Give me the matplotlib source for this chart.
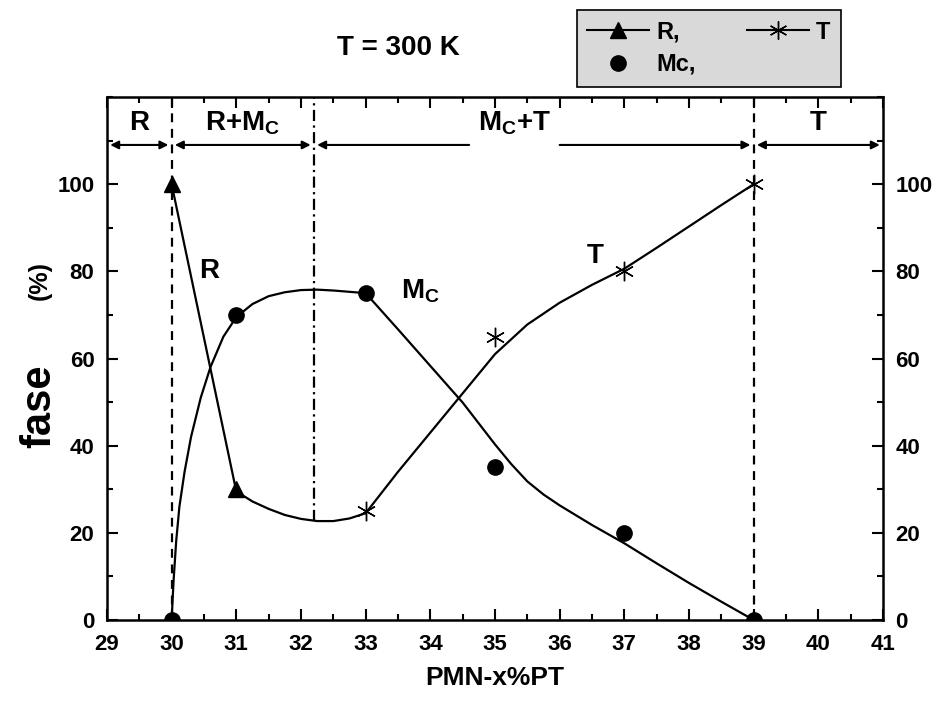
import matplotlib
matplotlib.use("Agg")
import matplotlib.pyplot as plt
from matplotlib.ticker import MultipleLocator

plt.rcParams['font.family'] = ['Liberation Sans', 'DejaVu Sans']
plt.rcParams['font.weight'] = 'bold'
plt.rcParams['axes.labelweight'] = 'bold'

# fracciones de fase medidas (%)
x_R = [30, 31]
y_R = [100, 30]
x_Mc = [30, 31, 33, 35, 37, 39]
y_Mc = [0, 70, 75, 35, 20, 0]
x_T = [33, 35, 37, 39]
y_T = [25, 65, 80, 100]

# curvas guia
curve_R_x = [30, 31, 31.25, 31.5, 31.75, 32.0, 32.25, 32.5, 32.75, 33.0]
curve_R_y = [100, 29.5, 27.2, 25.5, 24.1, 23.2, 22.7, 22.7, 23.3, 24.5]
curve_Mc_x = [30.0, 30.03, 30.07, 30.12, 30.2, 30.3, 30.45, 30.6, 30.8, 31.0, 31.25, 31.5,
              31.75, 32.0, 32.25, 32.5, 32.75, 33.0, 33.5, 34.0, 34.5, 34.75, 35.0, 35.25,
              35.5, 35.75, 36.0, 36.5, 37.0, 37.5, 38.0, 38.5, 39.0]
curve_Mc_y = [0, 9, 18, 26, 34, 42, 51, 58, 65, 69.5, 72.5, 74.3,
              75.2, 75.7, 75.8, 75.6, 75.3, 75.0, 66.7, 58.3, 49.9, 45.1, 40.3, 35.8,
              31.8, 28.8, 26.3, 21.8, 17.6, 13.0, 8.5, 4.2, 0]
curve_T_x = [33.0, 33.5, 34.0, 34.5, 35.0, 35.5, 36.0, 36.5, 37.0, 37.5, 38.0, 38.5, 39.0]
curve_T_y = [24.5, 34.0, 43.0, 52.0, 61.0, 67.8, 72.8, 76.9, 80.6, 85.4, 90.3, 95.2, 100]

# limites de fase
x_bounds = [30, 32.2, 39]
region_edges = [29, 30, 32.2, 39, 41]
region_names = ['R', 'R+M$_\\mathregular{C}$', 'M$_\\mathregular{C}$+T', 'T']

fig = plt.figure(figsize=(9.44, 7.06), dpi=100)
ax = fig.add_axes([0.1133, 0.1218, 0.8221, 0.7408])

lw = 1.6
ax.plot(curve_R_x, curve_R_y, color='black', lw=lw)
ax.plot(curve_Mc_x, curve_Mc_y, color='black', lw=lw)
ax.plot(curve_T_x, curve_T_y, color='black', lw=lw)

ax.plot(x_R, y_R, '^', color='black', ms=12)
ax.plot(x_Mc, y_Mc, 'o', color='black', ms=11)
ax.plot(x_T, y_T, marker=(6, 2, 0), ls='none', color='black', ms=14, mew=1.0)
ax.plot(30, 0, '^', color='black', ms=10)

# lineas verticales
ax.axvline(x_bounds[0], color='black', ls=(0, (4, 3)), lw=1.6)
ax.axvline(x_bounds[2], color='black', ls=(0, (4, 3)), lw=1.6)
ax.plot([x_bounds[1], x_bounds[1]], [22.7, 120], color='black',
        ls=(0, (5, 2, 1, 2)), lw=1.6)

# flechas de regiones
arr_y = 109
arrow_kw = dict(color='black', lw=1.5, mutation_scale=12, shrinkA=0, shrinkB=0)
for i in range(len(region_edges) - 1):
    a, b = region_edges[i], region_edges[i + 1]
    if region_names[i].startswith('M'):
        ax.annotate('', xy=(a + 0.05, arr_y), xytext=(34.6, arr_y),
                    arrowprops=dict(arrowstyle='-|>', **arrow_kw))
        ax.annotate('', xy=(b - 0.05, arr_y), xytext=(36.0, arr_y),
                    arrowprops=dict(arrowstyle='-|>', **arrow_kw))
        ax.text(35.3, 114, region_names[i], ha='center', va='center', fontsize=20)
    else:
        ax.annotate('', xy=(a + 0.05, arr_y), xytext=(b - 0.05, arr_y),
                    arrowprops=dict(arrowstyle='<|-|>', **arrow_kw))
        ax.text((a + b) / 2, 114, region_names[i], ha='center', va='center', fontsize=20)

ax.text(30.58, 80, 'R', fontsize=20, ha='center', va='center')
ax.text(33.85, 75.5, 'M$_\\mathregular{C}$', fontsize=20, ha='center', va='center')
ax.text(36.55, 83.5, 'T', fontsize=20, ha='center', va='center')

ax.set_xlim(29, 41)
ax.set_ylim(0, 120)
ax.xaxis.set_major_locator(MultipleLocator(1))
ax.xaxis.set_minor_locator(MultipleLocator(0.5))
ax.set_yticks([0, 20, 40, 60, 80, 100])
ax.yaxis.set_minor_locator(MultipleLocator(10))
ax.tick_params(which='both', direction='in', top=True, right=True,
               labelright=True, labelsize=16, width=1.5)
ax.tick_params(axis='x', pad=10)
ax.tick_params(axis='y', pad=9)
ax.tick_params(which='major', length=8)
ax.tick_params(which='minor', length=4)
for s in ax.spines.values():
    s.set_linewidth(1.8)
ax.set_xlabel('PMN-x%PT', fontsize=19, fontweight='bold', labelpad=8)

fig.text(0.042, 0.425, 'fase', rotation=90, fontsize=30, ha='center', va='center')
fig.text(0.042, 0.603, '(%)', rotation=90, fontsize=18, ha='center', va='center')
fig.text(0.422, 0.932, 'T = 300 K', fontsize=20, ha='center', va='center')

# leyenda
h_R, = ax.plot([], [], marker='^', color='black', ms=12, lw=1.5)
h_Mc, = ax.plot([], [], 'o', color='black', ms=11)
h_T, = ax.plot([], [], marker=(6, 2, 0), color='black', ms=13, lw=1.5)
leg = fig.legend([h_R, h_Mc, h_T], ['R,', 'Mc,', 'T'], ncol=2,
                 loc='upper left', bbox_to_anchor=(0.611, 0.986),
                 borderaxespad=0, fontsize=17, frameon=True, fancybox=False,
                 handlelength=2.6, handletextpad=0.3, columnspacing=2.2,
                 borderpad=0.45, labelspacing=0.4)
leg.get_frame().set_facecolor('#d9d9d9')
leg.get_frame().set_edgecolor('black')
leg.get_frame().set_linewidth(1.2)
leg.get_frame().set_alpha(1)

fig.savefig('out.png', dpi=100)
